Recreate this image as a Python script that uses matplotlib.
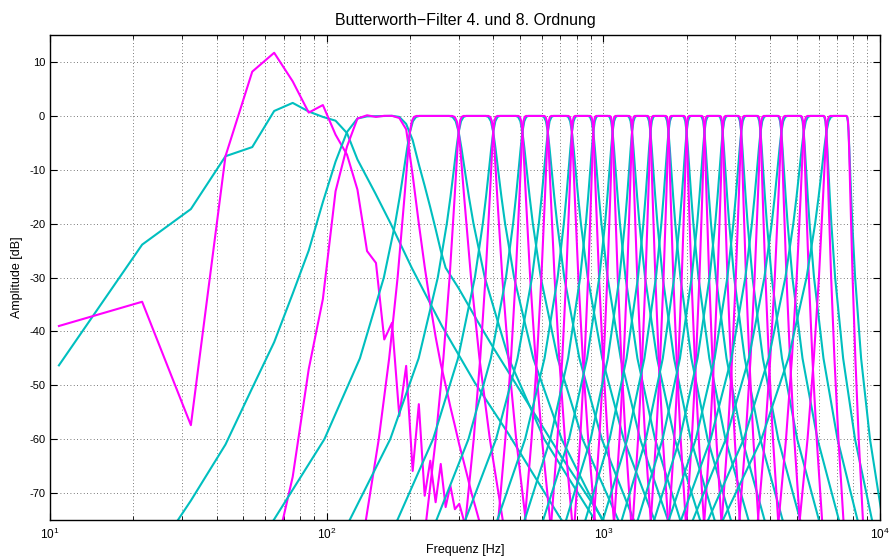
import numpy as np
import matplotlib
matplotlib.use("Agg")
import matplotlib.pyplot as plt
from matplotlib.ticker import LogLocator, NullFormatter, FixedLocator

plt.rcParams['font.family'] = ['Liberation Sans', 'DejaVu Sans']
plt.rcParams['axes.unicode_minus'] = False

# Bark-Baender 3..21 (Grenzen in Hz)
BAND_LO = [200, 300, 400, 510, 630, 770, 920, 1080, 1270, 1480,
           1720, 2000, 2320, 2700, 3150, 3700, 4400, 5300, 6400]
BAND_HI = [300, 400, 510, 630, 770, 920, 1080, 1270, 1480, 1720,
           2000, 2320, 2700, 3150, 3700, 4400, 5300, 6400, 7700]

# Flankenbreite je Band, untere / obere Flanke (relativ zu einem typischen Band)
SKIRT_C_LO = [2.0, 1.6, 1.407, 1.262, 1.211, 1.095, 1.008, 1.019, 0.968, 0.955,
              0.962, 0.952, 0.979, 1.005, 1.062, 1.167, 1.299, 1.403, 1.519]
SKIRT_C_HI = [2.0, 1.6, 1.407, 1.262, 1.211, 1.095, 0.993, 0.998, 0.942, 0.915,
              0.908, 0.882, 0.88, 0.866, 0.857, 0.845, 0.79, 0.67, 0.50]
SKIRT_M_LO = [2.39, 1.757, 1.497, 1.311, 1.247, 1.110, 1.007, 1.019, 0.964, 0.949,
              0.955, 0.943, 0.968, 0.991, 1.046, 1.147, 1.271, 1.358, 1.445]
SKIRT_M_HI = [2.39, 1.757, 1.497, 1.311, 1.247, 1.110, 0.999, 1.008, 0.951, 0.932,
              0.932, 0.913, 0.925, 0.930, 0.954, 0.995, 0.996, 0.925, 0.777]

# Flankenprofil 4. Ordnung: Pegel [dB] und Abstand zur Bandgrenze (Frequenzverhaeltnis)
CYAN_DB = [-0.02, -0.2, -1, -3, -6, -10, -15, -20, -30, -45, -60, -75, -90]
CYAN_SPREAD = [0.9616, 0.9750, 0.9877, 1.0, 1.0117, 1.0255, 1.0434, 1.0636,
               1.1147, 1.2315, 1.4276, 1.7627, 2.3351]

# Flankenprofil 8. Ordnung
MAG_DB = [-0.02, -0.2, -1, -3, -6, -15, -30, -45, -60, -75, -90]
MAG_SPREAD = [0.9775, 0.9862, 0.9935, 1.0, 1.0056, 1.0192, 1.0439, 1.0751,
              1.1147, 1.1658, 1.2315]

# Band 1 (20-100 Hz), 4. Ordnung
B1_C_F = [10.77, 21.53, 32.30, 43.07, 53.83, 64.60, 75.37, 86.13, 96.90, 107.67,
          118.43, 129.20, 150, 170, 203, 261, 343, 454, 696, 900]
B1_C_DB = [-46.3, -23.9, -17.3, -7.5, -5.8, 0.9, 2.4, 0.8, -0.2, -0.9,
           -3.2, -8.1, -14.4, -19.9, -28.2, -39, -49.5, -59, -74.5, -83]

# Band 1, 8. Ordnung
B1_M_F = [10.77, 21.53, 32.30, 43.07, 53.83, 64.60, 75.37, 86.13, 96.90, 107.67,
          118.43, 129.20, 139.97, 150.73, 161.50, 172.27, 183.03, 193.80, 204.57,
          215.33, 226.10, 236.87, 247.63, 258.40, 269.17, 279.93, 290.70, 301.47,
          312.23, 323.00]
B1_M_DB = [-39.0, -34.5, -57.4, -7.5, 8.2, 11.7, 6.4, 0.6, 2.0, -3.5,
           -7.2, -13.7, -25.1, -27.3, -41.5, -38.4, -55.7, -46.4, -65.9,
           -53.5, -70.5, -64.0, -71.7, -64.6, -72.6, -68.6, -73.0, -72.0,
           -74.8, -80.0]

# Band 2 (100-200 Hz), 4. Ordnung
B2_C_F = [21.53, 32.30, 43.07, 53.83, 64.60, 75.37, 86.13, 96.90, 107.67, 118.43,
          129.20, 139.97, 172.27, 183.03, 193.80, 204.57, 215.33, 226.10, 236.87,
          247.63, 258.40, 269.17, 300, 350, 400, 500, 600, 700, 800, 1000, 1200]
B2_C_DB = [-85, -71.4, -61, -50.5, -42, -33, -25, -16, -8.5, -3,
           -0.5, -0.1, 0, -0.2, -1.5, -4.5, -9, -13, -17,
           -21, -25, -28.2, -32, -38, -43, -51, -57.5, -63, -67.5, -75, -80]

# Band 2, 8. Ordnung
B2_M_F = [64.60, 75.37, 86.13, 96.90, 107.67, 118.43, 129.20, 139.97, 150.73,
          161.50, 172.27, 183.03, 193.80, 204.57, 215.33, 226.10, 236.87, 247.63,
          258.40, 269.17, 279.93, 290.70, 301.47, 312.23, 323.00, 333.77, 344.53,
          355.30, 366.07]
B2_M_DB = [-82, -67, -47, -34, -14, -5.7, -0.5, 0.1, -0.2,
           0, 0, -0.4, -2.5, -11, -20, -28, -35, -41,
           -46, -50, -54, -57.5, -61, -64, -67, -70, -72.5,
           -75, -77.5]

C_COL = '#00bfbf'
M_COL = '#ff00ff'
LW = 1.5


def band_curve(lo, hi, spread, levels, s_lo, s_hi):
    sp = np.array(spread)
    lv = np.array(levels, dtype=float)
    f = np.concatenate([lo / sp[::-1] ** s_lo, hi * sp ** s_hi])
    db = np.concatenate([lv[::-1], lv])
    return f, db


fig = plt.figure(figsize=(8.9, 5.59), dpi=100)
ax = fig.add_axes([50 / 890, 1 - 520 / 559, 830 / 890, 485 / 559])

ax.semilogx(B1_C_F, B1_C_DB, color=C_COL, lw=LW)
ax.semilogx(B1_M_F, B1_M_DB, color=M_COL, lw=LW)
ax.semilogx(B2_C_F, B2_C_DB, color=C_COL, lw=LW)
ax.semilogx(B2_M_F, B2_M_DB, color=M_COL, lw=LW)

for i in range(len(BAND_LO)):
    f, db = band_curve(BAND_LO[i], BAND_HI[i], CYAN_SPREAD, CYAN_DB,
                       SKIRT_C_LO[i], SKIRT_C_HI[i])
    ax.semilogx(f, db, color=C_COL, lw=LW)
    f, db = band_curve(BAND_LO[i], BAND_HI[i], MAG_SPREAD, MAG_DB,
                       SKIRT_M_LO[i], SKIRT_M_HI[i])
    ax.semilogx(f, db, color=M_COL, lw=LW)

ax.set_xlim(10, 1e4)
ax.set_ylim(-75, 15)
ax.yaxis.set_major_locator(FixedLocator(np.arange(-70, 11, 10)))
ax.xaxis.set_major_locator(LogLocator(base=10))
ax.xaxis.set_minor_locator(LogLocator(base=10, subs=np.arange(2, 10)))
ax.xaxis.set_minor_formatter(NullFormatter())

ax.tick_params(which='both', direction='in', top=True, right=True, labelsize=8)
ax.tick_params(which='major', length=5, width=0.8)
ax.tick_params(which='minor', length=3, width=0.6)
ax.tick_params(axis='x', labelsize=8.5, pad=5)

grid_kw = dict(linestyle=(0, (1, 3)), color='0.3', lw=0.6)
ax.grid(True, which='major', **grid_kw)
ax.xaxis.grid(True, which='minor', **grid_kw)
for sp in ax.spines.values():
    sp.set_linewidth(1.0)

ax.set_title('Butterworth\u2212Filter 4. und 8. Ordnung', fontsize=11.5, pad=7)
ax.set_xlabel('Frequenz [Hz]', fontsize=9, labelpad=1)
ax.set_ylabel('Amplitude [dB]', fontsize=9, labelpad=4)

fig.savefig('out.png', dpi=100)
